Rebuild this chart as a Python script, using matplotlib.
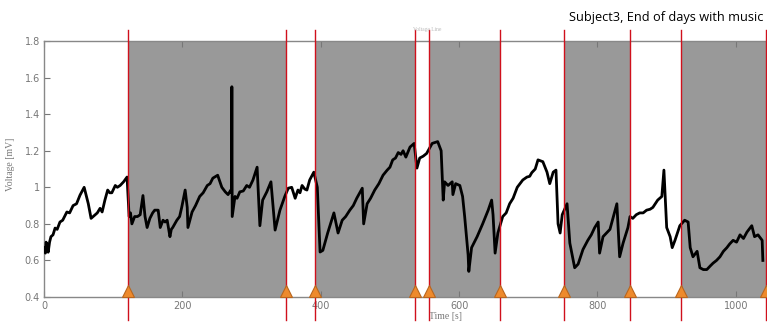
import matplotlib.pyplot as plt
import numpy as np

# event boundaries [s]: music on/off markers
events = [121, 350, 392, 536, 556, 659, 751, 847, 920, 1043]
# shaded (music) intervals
music_on = [(121, 350), (392, 536), (556, 659), (751, 847), (920, 1043)]

# voltage trace as (time [s], voltage [mV]) pairs, one list per interval
seg01 = [(0, 0.67), (2, 0.64), (3, 0.70), (5, 0.68), (6, 0.645), (8, 0.70), (10, 0.73),
         (13, 0.74), (16, 0.777), (19, 0.77), (23, 0.81), (27, 0.82), (33, 0.865),
         (37, 0.86), (42, 0.90), (47, 0.91), (52, 0.957), (58, 1.0), (64, 0.91),
         (68, 0.83), (74, 0.85), (77, 0.86), (81, 0.885), (84, 0.865), (88, 0.93),
         (92, 0.985), (95, 0.97), (98, 0.97), (103, 1.01), (106, 1.0), (110, 1.01),
         (115, 1.03), (120, 1.056)]
seg02 = [(123, 0.84), (125, 0.86), (127, 0.80), (131, 0.84), (135, 0.84), (139, 0.85),
         (143, 0.955), (146, 0.84), (149, 0.78), (153, 0.83), (157, 0.86), (160, 0.875),
         (165, 0.875), (168, 0.78), (172, 0.82), (175, 0.81), (178, 0.82), (182, 0.73),
         (184, 0.77), (186, 0.78), (192, 0.82), (196, 0.84), (199, 0.89), (204, 0.985),
         (207, 0.89), (208, 0.78), (214, 0.865), (219, 0.90), (225, 0.95), (230, 0.97),
         (236, 1.01), (240, 1.02), (244, 1.05), (251, 1.066), (257, 1.0), (262, 0.975),
         (266, 0.96), (270, 0.985), (271, 0.97), (271.5, 1.55), (272, 0.84), (276, 0.95),
         (279, 0.94), (283, 0.975), (288, 0.98), (293, 1.01), (297, 1.0), (302, 1.04),
         (308, 1.11), (312, 0.79), (316, 0.93), (322, 0.975), (328, 1.03), (334, 0.766),
         (341, 0.875), (348, 0.95)]
seg03 = [(353, 0.995), (358, 1.0), (363, 0.94), (367, 0.985), (370, 0.97), (373, 1.01),
         (377, 0.99), (380, 0.985), (384, 1.04), (390, 1.083)]
seg04 = [(395, 1.0), (399, 0.646), (403, 0.655), (410, 0.75), (419, 0.86), (425, 0.75),
         (431, 0.82), (436, 0.84), (442, 0.875), (447, 0.90), (452, 0.94), (460, 0.995),
         (462, 0.80), (467, 0.91), (472, 0.94), (478, 0.985), (484, 1.02), (490, 1.066),
         (496, 1.094), (500, 1.11), (504, 1.15), (508, 1.16), (512, 1.19), (516, 1.18),
         (519, 1.20), (523, 1.165), (529, 1.22), (535, 1.24)]
seg05 = [(539, 1.105), (543, 1.16), (548, 1.17), (553, 1.185)]
seg06 = [(561, 1.24), (569, 1.25), (574, 1.20), (577, 0.93), (579, 1.03), (584, 1.01),
         (590, 1.03), (591, 0.96), (595, 1.02), (601, 1.01), (605, 0.95), (608, 0.84),
         (613, 0.63), (614, 0.54), (618, 0.67), (626, 0.73), (634, 0.80), (642, 0.875),
         (647, 0.93), (649, 0.85), (652, 0.64), (656, 0.75)]
seg07 = [(663, 0.84), (668, 0.86), (673, 0.91), (678, 0.94), (684, 1.0), (688, 1.02),
         (692, 1.04), (698, 1.056), (702, 1.06), (705, 1.08), (710, 1.10), (714, 1.15),
         (721, 1.14), (727, 1.083), (731, 1.02), (736, 1.083), (740, 1.094), (743, 0.80),
         (746, 0.75), (749, 0.85)]
seg08 = [(753, 0.885), (756, 0.91), (760, 0.695), (767, 0.56), (772, 0.58), (779, 0.66),
         (786, 0.71), (791, 0.74), (796, 0.78), (801, 0.81), (803, 0.64), (808, 0.73),
         (813, 0.75), (818, 0.77), (823, 0.84), (828, 0.91), (832, 0.62), (837, 0.695),
         (844, 0.78), (847, 0.84)]
seg09 = [(851, 0.83), (856, 0.85), (861, 0.86), (866, 0.86), (871, 0.875), (876, 0.88),
         (880, 0.89), (887, 0.93), (893, 0.95), (896, 1.094), (900, 0.78), (905, 0.73),
         (908, 0.67), (912, 0.71), (919, 0.79)]
seg10 = [(926, 0.82), (931, 0.81), (934, 0.67), (938, 0.62), (944, 0.65), (948, 0.56),
         (953, 0.55), (958, 0.55), (963, 0.57), (967, 0.585), (972, 0.60), (977, 0.62),
         (982, 0.65), (987, 0.67), (991, 0.69), (996, 0.71), (1001, 0.70), (1006, 0.74),
         (1011, 0.72), (1016, 0.755), (1023, 0.79), (1027, 0.73), (1032, 0.74),
         (1038, 0.71), (1039, 0.60)]

xticks = [0, 200, 400, 600, 800, 1000]
yticks = [0.4, 0.6, 0.8, 1.0, 1.2, 1.4, 1.6, 1.8]
yticklabels = ['0.4', '0.6', '0.8', '1', '1.2', '1.4', '1.6', '1.8']

trace = np.array(seg01 + seg02 + seg03 + seg04 + seg05 + seg06 + seg07 + seg08 + seg09 + seg10)
t, v = trace[:, 0], trace[:, 1]

fig = plt.figure(figsize=(7.67, 3.24), dpi=100)
ax = fig.add_axes([0.0574, 0.0833, 0.9426, 0.7901])

for a, b in music_on:
    ax.axvspan(a, b, color='#999999', lw=0, zorder=0)

ax.plot(t, v, color='black', lw=2.0, zorder=3)

for e in events:
    ax.axvline(e, ymin=-0.09, ymax=1.043, color='#d0101c', lw=1.0, clip_on=False, zorder=4)
ax.plot(events, [0.435] * len(events), linestyle='none', marker='^', ms=9,
        mfc='#ee8a2c', mec='#b8661e', mew=0.8, clip_on=False, zorder=5)

ax.set_xlim(0, 1045)
ax.set_ylim(0.4, 1.8)
ax.set_xticks(xticks)
ax.set_xticklabels([str(x) for x in xticks])
ax.set_yticks(yticks)
ax.set_yticklabels(yticklabels)
ax.tick_params(direction='in', length=4, width=0.8, colors='#777777', labelsize=7,
               top=True, right=False, pad=3)
for s in ax.spines.values():
    s.set_color('#888888')
    s.set_linewidth(1.0)
ax.spines['right'].set_visible(False)

ax.set_xlabel('Time [s]', family='Liberation Serif', fontsize=7, color='#777777')
ax.xaxis.set_label_coords(0.555, -0.06)
ax.set_ylabel('Voltage [mV]', family='Liberation Serif', fontsize=7, color='#777777')
ax.yaxis.set_label_coords(-0.04, 0.52)

# faint leftover of the original plot title
fig.text(0.557, 0.905, 'Voltage Line', ha='center', va='baseline',
         family='Liberation Serif', fontsize=4, color='#bbbbbb')
fig.text(0.995, 0.935, 'Subject3, End of days with music', ha='right', va='baseline',
         family='Open Sans', fontsize=9.2, color='black')

fig.savefig('out.png', dpi=100)
